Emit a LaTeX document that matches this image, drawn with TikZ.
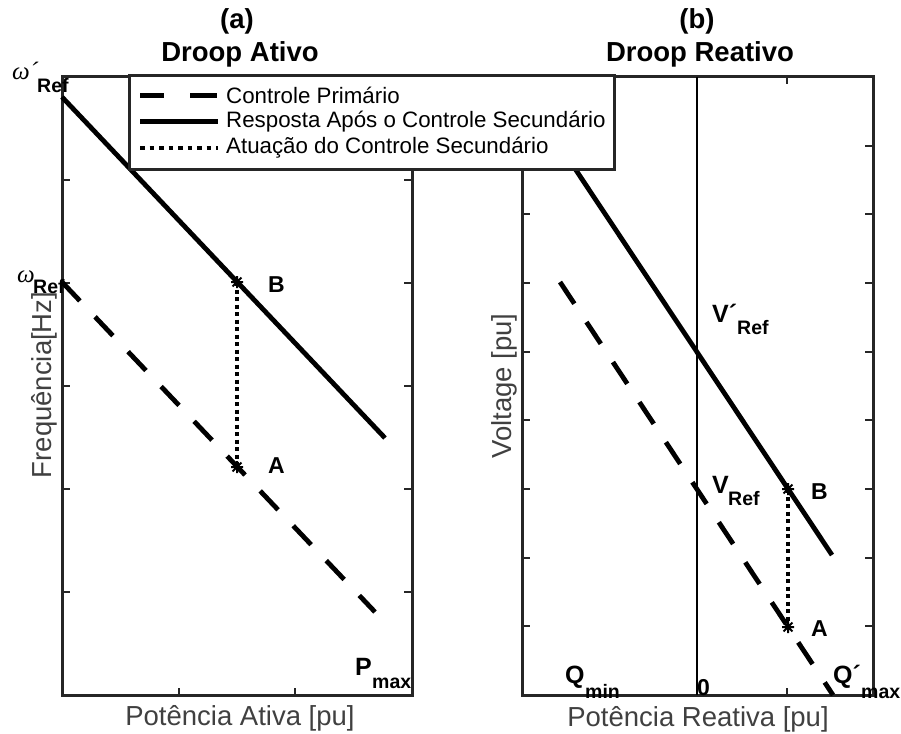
\documentclass[tikz,border=0pt]{standalone}
\usepackage{fontspec}
\setmainfont{Liberation Sans}
\newfontfamily\grkfont{Liberation Serif}
\newcommand\fsz[1]{\fontsize{#1}{#1}\selectfont}
\definecolor{axgray}{RGB}{38,38,38}
\definecolor{labgray}{RGB}{64,64,64}
\tikzset{
  axbox/.style={draw=axgray, line width=3pt},
  tickl/.style={draw=axgray, line width=2.5pt},
  plotsolid/.style={draw=black, line width=4.8pt},
  plotdash/.style={draw=black, line width=4.8pt, dash pattern=on 26pt off 22pt},
  plotdot/.style={draw=black, line width=4pt, dash pattern=on 4pt off 3.5pt},
  zeroline/.style={draw=black, line width=1.5pt},
  legbox/.style={draw=axgray, fill=white, line width=3pt, inner sep=0pt},
  txt/.style={inner sep=0pt, anchor=base west},
  ptlabel/.style={txt, font=\fsz{23}\bfseries},
  bigletter/.style={txt, font=\fsz{25}\bfseries},
  subtxt/.style={txt, font=\fsz{19.5}\bfseries},
  omegatxt/.style={txt, font=\fsz{25}\grkfont\itshape},
  titletxt/.style={inner sep=0pt, anchor=base, font=\fsz{27.5}\bfseries},
  axlabel/.style={inner sep=0pt, anchor=base, text=labgray, font=\fsz{27.5}},
  legtxt/.style={txt, font=\fsz{22.3}},
  astmark/.pic={\draw[line width=2pt, line cap=butt]
    (-6,0)--(6,0) (0,-6)--(0,6) (-4.4,-4.4)--(4.4,4.4) (-4.4,4.4)--(4.4,-4.4);}
}
\begin{document}
\begin{tikzpicture}[x=1pt, y=-1pt]
\useasboundingbox (0,0) rectangle (901,733);

% ---------- (a) active droop ----------
\coordinate (aTL) at (62,77);
\coordinate (aBR) at (412,695);
\draw[axbox] (aTL) rectangle (aBR);
\foreach \yy in {180,283,386,489,592}{
  \draw[tickl] (62,\yy) -- ++(8,0);
  \draw[tickl] (412,\yy) -- ++(-8,0);}
\foreach \xx in {179,295}{
  \draw[tickl] (\xx,695) -- ++(0,-7);
  \draw[tickl] (\xx,77) -- ++(0,7);}

\coordinate (aS0) at (62,97);
\coordinate (aS1) at (385,438);
\coordinate (aD0) at (62,282);
\coordinate (aD1) at (375,612);
\coordinate (aB) at (237,282);
\coordinate (aA) at (237,467);
\draw[plotsolid] (aS0) -- (aS1);
\draw[plotdash] (aD0) -- (aD1);
\draw[plotdot] (aB) -- (aA);
\pic at (aB) {astmark};
\pic at (aA) {astmark};

% ---------- (b) reactive droop ----------
\coordinate (bTL) at (522,77);
\coordinate (bBR) at (873,695);
\draw[axbox] (bTL) rectangle (bBR);
\foreach \yy in {146,214,283,352,420,489,558,626}{
  \draw[tickl] (522,\yy) -- ++(8,0);
  \draw[tickl] (873,\yy) -- ++(-8,0);}
\foreach \xx in {697,787}{
  \draw[tickl] (\xx,695) -- ++(0,-7);
  \draw[tickl] (\xx,77) -- ++(0,7);}
\coordinate (bZ0) at (697,77);
\coordinate (bZ1) at (697,695);
\draw[zeroline] (bZ0) -- (bZ1);

\coordinate (bS0) at (522,89);
\coordinate (bS1) at (832,555);
\coordinate (bD0) at (560,282);
\coordinate (bD1) at (833,695);
\coordinate (bB) at (788,489);
\coordinate (bA) at (788,627);
\draw[plotsolid] (bS0) -- (bS1);
\draw[plotdash] (bD0) -- (bD1);
\draw[plotdot] (bB) -- (bA);
\pic at (bB) {astmark};
\pic at (bA) {astmark};

% ---------- legend ----------
\node[legbox, anchor=north west, minimum width=485pt, minimum height=94pt] (legend) at (128,74) {};
\coordinate (l1a) at (140,95.5);   \coordinate (l1b) at (217,95.5);
\coordinate (l2a) at (140,121.5);  \coordinate (l2b) at (218,121.5);
\coordinate (l3a) at (140,148);    \coordinate (l3b) at (218,148);
\draw[draw=black, line width=4.8pt, dash pattern=on 24pt off 26pt on 27pt off 0pt] (l1a) -- (l1b);
\draw[plotsolid] (l2a) -- (l2b);
\draw[draw=black, line width=4.5pt, dash pattern=on 4.5pt off 5pt] (l3a) -- (l3b);
\node[legtxt] (leg1) at (226,103) {Controle Primário};
\node[legtxt] (leg2) at (226,128) {Resposta Após o Controle Secundário};
\node[legtxt] (leg3) at (226,153) {Atuação do Controle Secundário};

% ---------- titles and axis labels ----------
\node[titletxt] (ttlA) at (237,29) {(a)};
\node[titletxt] (ttlA2) at (240,62) {Droop Ativo};
\node[titletxt] (ttlB) at (697,29) {(b)};
\node[titletxt] (ttlB2) at (700,62) {Droop Reativo};
\node[axlabel] (xlabA) at (240,725) {Potência Ativa [pu]};
\node[axlabel] (xlabB) at (698,726) {Potência Reativa [pu]};
\node[axlabel, rotate=90] (ylabA) at (51,385) {Frequência[Hz]};
\node[axlabel, rotate=90] (ylabB) at (511,386) {Voltage [pu]};

% ---------- annotations (a) ----------
\node[omegatxt] (w1) at (12,80) {ω´};
\node[subtxt] (w1s) at (37,93) {Ref};
\node[omegatxt] (w0) at (17,282) {ω};
\node[subtxt] (w0s) at (33,293) {Ref};
\node[ptlabel] (labBa) at (268,292) {B};
\node[ptlabel] (labAa) at (268,473) {A};
\node[bigletter] (pmax) at (355,675) {P};
\node[subtxt] (pmaxs) at (372,688) {max};

% ---------- annotations (b) ----------
\node[bigletter] (v1) at (712,322) {V´};
\node[subtxt] (v1s) at (737,334) {Ref};
\node[bigletter] (v0) at (712,493) {V};
\node[subtxt] (v0s) at (728,505) {Ref};
\node[ptlabel] (labBb) at (811,499) {B};
\node[ptlabel] (labAb) at (811,636) {A};
\node[bigletter] (qmin) at (565,683) {Q};
\node[subtxt] (qmins) at (585,698) {min};
\node[ptlabel] (zero) at (697,695) {0};
\node[bigletter] (qmax) at (833,683) {Q´};
\node[subtxt] (qmaxs) at (861,698) {max};
\end{tikzpicture}
\end{document}
